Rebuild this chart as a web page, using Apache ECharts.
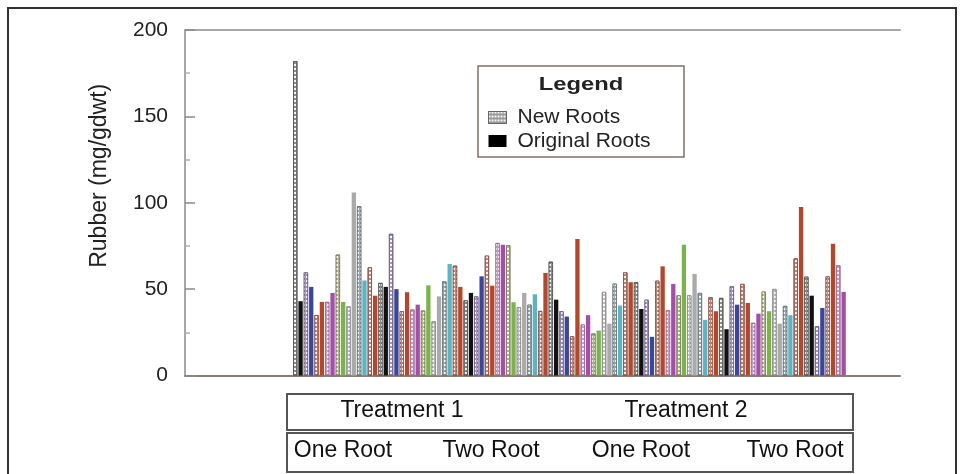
<!DOCTYPE html>
<html>
<head>
<meta charset="utf-8">
<script src="https://cdn.jsdelivr.net/npm/echarts@6/dist/echarts.min.js"></script>
<style>
  html, body { margin: 0; padding: 0; background: #fff; }
  #chart { width: 964px; height: 474px; }
</style>
</head>
<body>
<div id="chart"></div>
<script>
// ---- data ----
const newRoots = [182, 59.7, 35, 42.6, 70, 40, 98, 62.6, 53.6, 82,
  37.2, 38.2, 37.6, 31.4, 54.5, 63.6, 43.5, 45.8, 69.4, 76.7,
  75.5, 39.5, 41, 37.4, 65.9, 37.2, 22.7, 29.5, 24.3, 48.4,
  53.2, 59.7, 54, 43.9, 54.9, 37.8, 46.4, 46.4, 47.8, 45.3,
  44.9, 51.6, 53, 30.5, 48.6, 50.1, 40.3, 67.8, 57.2, 28.5,
  57.4, 63.8];
const originalRoots = [43, 51.3, 42.6, 47.8, 42.6, 106, 55, 46.2, 51.3, 50,
  48.2, 41, 52.2, 45.8, 64.5, 51.3, 47.8, 57.4, 52, 75.7,
  42.4, 47.8, 47, 59.4, 43.9, 34.1, 79, 34.9, 26, 30,
  40.5, 54, 38.5, 22.4, 63.2, 53, 75.7, 58.8, 32.2, 37.2,
  26.8, 41, 42, 35.8, 37.2, 30, 34.9, 97.5, 46.2, 39.1,
  76.3, 48.4];
const plants = Array.from({ length: newRoots.length }, (_, i) => String(i + 1));
const treatments = ['Treatment 1', 'Treatment 2'];
const rootGroups = ['One Root', 'Two Root', 'One Root', 'Two Root'];
const yTicks = [0, 50, 100, 150, 200];

// ---- styles ----
const newColors  = ['#8c8c8c', '#a497b6', '#b88a80', '#c6a2c2', '#b4b496', '#bdbdbd', '#9ea6a8', '#b88a80'];
const newBorders = ['#555555', '#6e5f86', '#8a5447', '#9a6c96', '#7d7d5a', '#8a8a8a', '#66767a', '#8a5447'];
const origColors = ['#111111', '#38479a', '#b2472b', '#a34ea9', '#7bb24c', '#aaaaaa', '#5db3c2', '#b2472b'];

const decal = { symbol: 'rect', symbolSize: 1, color: 'rgba(255,255,255,0.9)', dashArrayX: [2, 1], dashArrayY: [2, 2] };

const chart = echarts.init(document.getElementById('chart'), null, { renderer: 'canvas' });
const font = '"Liberation Sans", Arial, sans-serif';
const boxFont = '23px "Liberation Sans", Arial, sans-serif';

function label(text, x, y) {
  return { type: 'text', z: 2, x: x, y: y,
    style: { text: text, font: boxFont, fill: '#111',
             align: 'center', verticalAlign: 'middle', textAlign: 'center', textVerticalAlign: 'middle' } };
}

const option = {
  animation: false,
  backgroundColor: '#ffffff',
  grid: [
    { left: 185, right: 64, top: 30, bottom: 98.5 },
    { left: 292.6, right: 117.7, top: 30, bottom: 98.5 }
  ],
  xAxis: [
    { gridIndex: 0, type: 'value', min: 0, max: 1, position: 'bottom',
      axisLine: { show: true, lineStyle: { color: '#8a7f79', width: 2 } },
      axisTick: { show: false }, axisLabel: { show: false }, splitLine: { show: false } },
    { gridIndex: 0, type: 'value', min: 0, max: 1, position: 'top',
      axisLine: { show: true, lineStyle: { color: '#a8a8a8', width: 2 } },
      axisTick: { show: false }, axisLabel: { show: false }, splitLine: { show: false } },
    { gridIndex: 1, type: 'category', data: plants, show: false }
  ],
  yAxis: [
    { gridIndex: 0, type: 'value', min: yTicks[0], max: yTicks[yTicks.length - 1], interval: 50,
      name: 'Rubber (mg/gdwt)', nameLocation: 'middle', nameGap: 74, nameRotate: 90,
      nameTextStyle: { fontFamily: font, fontSize: 23, color: '#222', padding: [0, 0, 0, 54] },
      axisLine: { show: true, lineStyle: { color: '#8a8a8a', width: 1.5 } },
      axisTick: { show: true, inside: true, length: 10, lineStyle: { color: '#8a8a8a', width: 1.5 } },
      minorTick: { show: true, splitNumber: 2, length: 5, lineStyle: { color: '#b0b0b0', width: 1.5 } },
      axisLabel: { fontFamily: font, fontSize: 21, color: '#222', margin: 17 },
      splitLine: { show: false } },
    { gridIndex: 1, type: 'value', min: 0, max: 200, show: false }
  ],
  legend: {
    orient: 'vertical', left: 483, top: 102, itemWidth: 18, itemHeight: 12, itemGap: 2.5,
    icon: 'rect',
    textStyle: { fontFamily: font, fontSize: 21, color: '#222', padding: [0, 0, 0, 6] },
    data: [
      { name: 'New Roots', itemStyle: { color: '#9a9a9a', borderColor: '#666', borderWidth: 1, decal: decal } },
      { name: 'Original Roots', itemStyle: { color: '#000' } }
    ]
  },
  series: [
    { name: 'New Roots', type: 'bar', xAxisIndex: 2, yAxisIndex: 1,
      barWidth: 4.3, barGap: '24%',
      itemStyle: { color: '#9a9a9a', borderColor: '#666', borderWidth: 0.8, decal: decal },
      data: newRoots.map((v, i) => ({ value: v,
        itemStyle: { color: newColors[i % 8], borderColor: newBorders[i % 8], borderWidth: 0.8, decal: decal } })) },
    { name: 'Original Roots', type: 'bar', xAxisIndex: 2, yAxisIndex: 1,
      barWidth: 4.3, barGap: '24%',
      itemStyle: { color: '#000' },
      data: originalRoots.map((v, i) => ({ value: v, itemStyle: { color: origColors[i % 8] } })) }
  ],
  graphic: [
    { type: 'rect', z: -1, shape: { x: 8, y: 8, width: 948, height: 480 },
      style: { fill: 'none', stroke: '#333', lineWidth: 2 } },
    { type: 'rect', z: 1, shape: { x: 478, y: 66, width: 206, height: 91 },
      style: { fill: '#fff', stroke: '#7d716c', lineWidth: 1.5 } },
    { type: 'text', z: 2, x: 581, y: 85, scaleX: 1.25,
      style: { text: 'Legend', font: '600 19px "Liberation Sans", Arial, sans-serif', fill: '#222',
               align: 'center', verticalAlign: 'middle', textAlign: 'center', textVerticalAlign: 'middle' } },
    { type: 'rect', z: 1, shape: { x: 287, y: 394, width: 566, height: 36 },
      style: { fill: '#fff', stroke: '#555', lineWidth: 2 } },
    { type: 'rect', z: 1, shape: { x: 287, y: 433, width: 566, height: 39 },
      style: { fill: '#fff', stroke: '#555', lineWidth: 2 } },
    label(treatments[0], 402, 411),
    label(treatments[1], 686, 411),
    label(rootGroups[0], 343, 451),
    label(rootGroups[1], 491, 451),
    label(rootGroups[2], 641, 451),
    label(rootGroups[3], 795, 451)
  ]
};
chart.setOption(option);
</script>
</body>
</html>
